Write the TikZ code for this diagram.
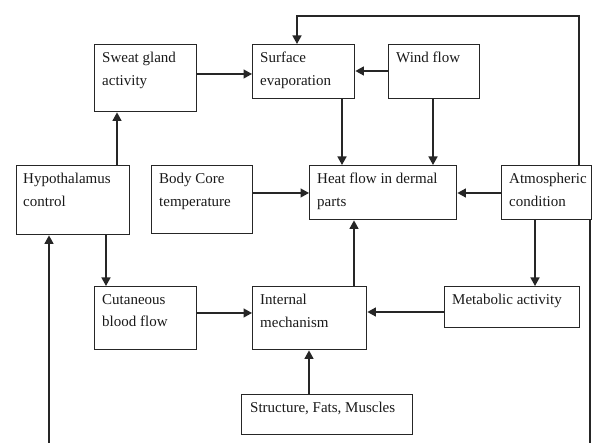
\documentclass[tikz,border=0pt]{standalone}
\usepackage{fontspec}
\setmainfont{Liberation Serif}
\usetikzlibrary{arrows.meta,positioning,calc}
\begin{document}
\begin{tikzpicture}[x=1pt,y=-1pt,
  box/.style={draw=black!85,line width=1.4pt,rectangle,inner sep=0pt,anchor=north west},
  txt/.style={anchor=north west,inner sep=0pt,align=left,font=\fontsize{15}{22.5}\selectfont,text=black!90},
  arr/.style={draw=black!85,line width=1.4pt,-{Triangle[length=8.5pt,width=9pt]}},
  ln/.style={draw=black!85,line width=1.4pt}]
\useasboundingbox (0,0) rectangle (592,443);
% boxes: (x,y) top-left, width, height
\node[box,minimum width=102pt,minimum height=67pt] (sweat) at (94,44) {};
\node[box,minimum width=102pt,minimum height=54pt] (surf) at (252,44) {};
\node[box,minimum width=91pt,minimum height=54pt] (wind) at (388,44) {};
\node[box,minimum width=113pt,minimum height=69pt] (hyp) at (16,165) {};
\node[box,minimum width=101pt,minimum height=68pt] (body) at (151,165) {};
\node[box,minimum width=147pt,minimum height=54pt] (heat) at (309,165) {};
\node[box,minimum width=90pt,minimum height=54pt] (atm) at (501,165) {};
\node[box,minimum width=102pt,minimum height=63pt] (cut) at (94,286) {};
\node[box,minimum width=114pt,minimum height=63pt] (intm) at (252,286) {};
\node[box,minimum width=135pt,minimum height=41pt] (metab) at (444,286) {};
\node[box,minimum width=171pt,minimum height=40pt] (struct) at (241,394) {};
% texts
\node[txt] (tsweat) at ([shift={(8,8)}]sweat.north west) {Sweat gland\\activity};
\node[txt] (tsurf) at ([shift={(8,8)}]surf.north west) {Surface\\evaporation};
\node[txt] (twind) at ([shift={(8,8)}]wind.north west) {Wind flow};
\node[txt] (thyp) at ([shift={(7,8)}]hyp.north west) {Hypothalamus\\control};
\node[txt] (tbody) at ([shift={(8,8)}]body.north west) {Body Core\\temperature};
\node[txt] (theat) at ([shift={(8,8)}]heat.north west) {Heat flow in dermal\\parts};
\node[txt] (tatm) at ([shift={(8,8)}]atm.north west) {Atmospheric\\condition};
\node[txt] (tcut) at ([shift={(8,8)}]cut.north west) {Cutaneous\\blood flow};
\node[txt] (tintm) at ([shift={(8,8)}]intm.north west) {Internal\\mechanism};
\node[txt] (tmetab) at ([shift={(8,8)}]metab.north west) {Metabolic activity};
\node[txt] (tstruct) at ([shift={(9,8)}]struct.north west) {Structure, Fats, Muscles};
% free ends at the picture's bottom edge
\coordinate (botL) at (49,443);
\coordinate (botR) at (590,443);
\coordinate (topL) at (297,16);
\coordinate (topR) at (579,16);
% connectors
\draw[arr] ([yshift=-30]sweat.north east) -- ([yshift=-30]surf.north west);
\draw[arr] ([yshift=-27]wind.north west) -- ([yshift=-27]surf.north east);
\draw[arr] ([xshift=90]surf.south west) -- ([xshift=33]heat.north west);
\draw[arr] ([xshift=45]wind.south west) -- ([xshift=124]heat.north west);
\draw[arr] ([xshift=101]hyp.north west) -- ([xshift=23]sweat.south west);
\draw[arr] ([xshift=90]hyp.south west) -- ([xshift=12]cut.north west);
\draw[arr] ([yshift=-28]body.north east) -- ([yshift=-28]heat.north west);
\draw[arr] ([yshift=-28]atm.north west) -- ([yshift=-28]heat.north east);
\draw[arr] ([xshift=34]atm.south west) -- ([xshift=91]metab.north west);
\draw[arr] ([yshift=-27]cut.north east) -- ([yshift=-27]intm.north west);
\draw[arr] ([yshift=-26]metab.north west) -- ([yshift=-26]intm.north east);
\draw[arr] ([xshift=102]intm.north west) -- ([xshift=45]heat.south west);
\draw[arr] ([xshift=68]struct.north west) -- ([xshift=57]intm.south west);
\draw[arr] ([xshift=78]atm.north west) -- (topR) -- (topL) -- (surf.north west -| topL);
\draw[arr] (botL) -- (hyp.south west -| botL);
\draw[ln] (atm.south east -| botR) -- (botR);
\end{tikzpicture}
\end{document}
